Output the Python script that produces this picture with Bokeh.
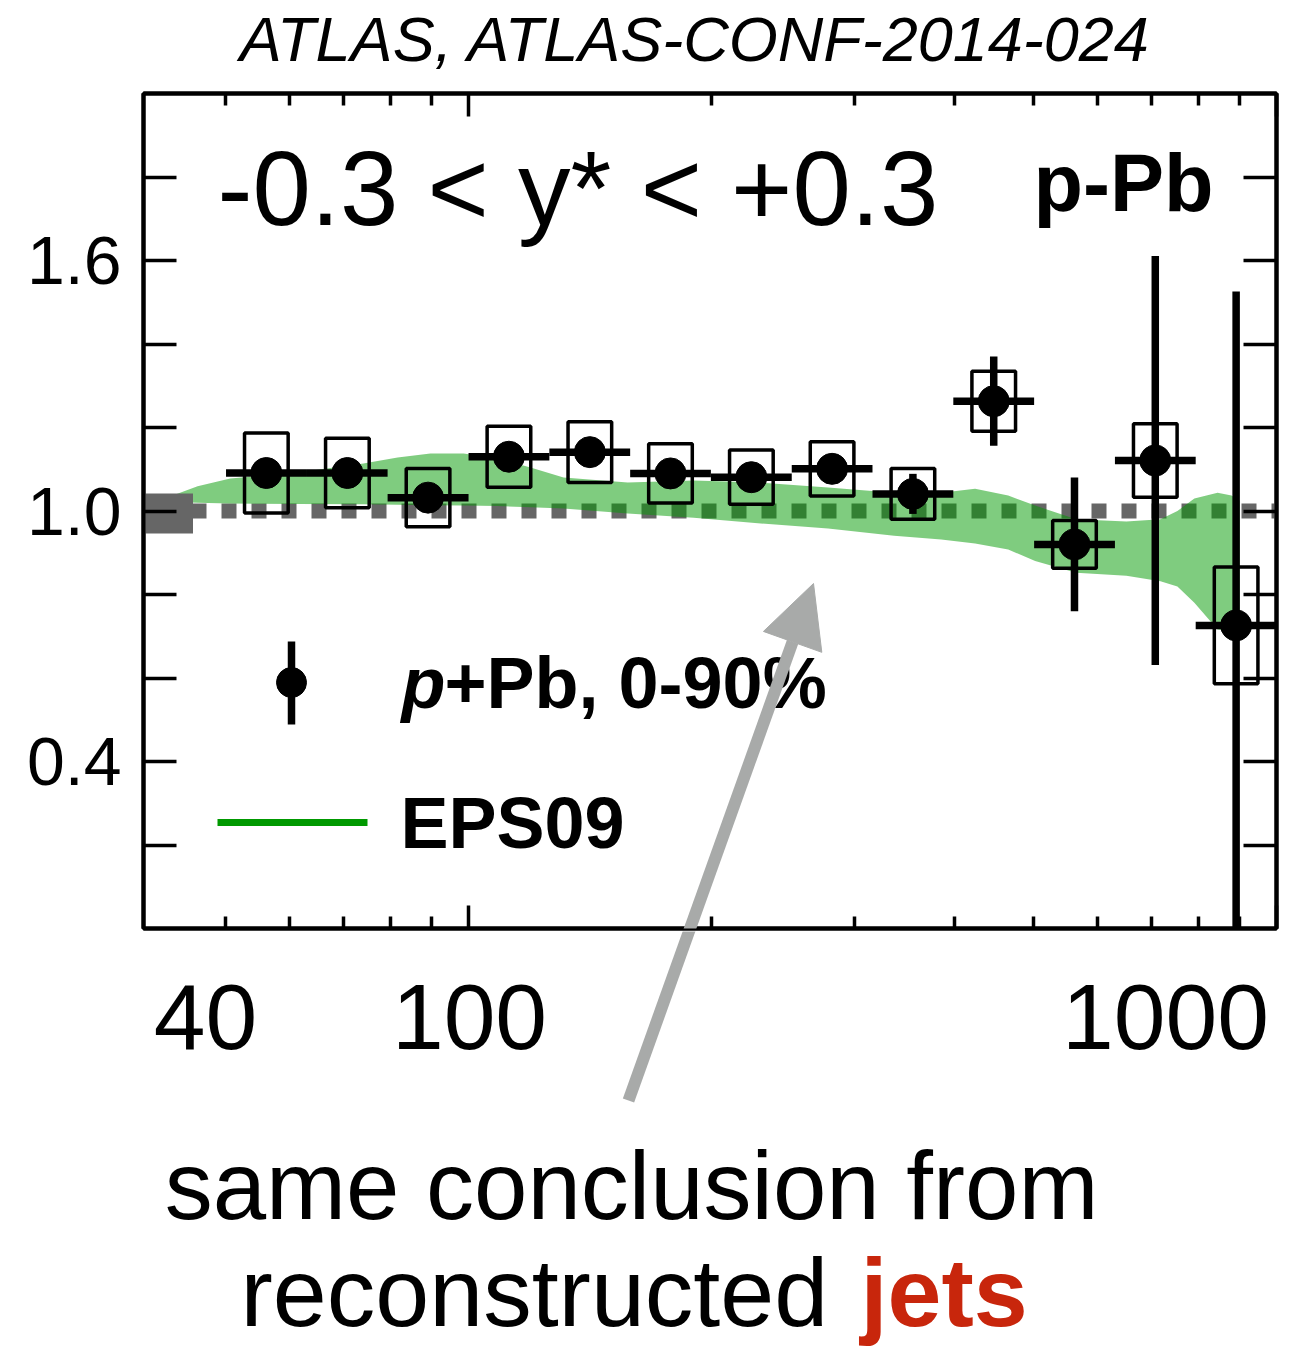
from math import log10
from bokeh.plotting import figure
from bokeh.layouts import column
from bokeh.models import (FixedTicker, LogAxis, LinearAxis, Span, Label, Arrow,
                          NormalHead, ColumnDataSource, Range1d)
from bokeh.embed import file_html
from bokeh.resources import INLINE

# ---------------- data ----------------
pt_x = [56.2, 70.8, 89.1, 112.2, 141.3, 177.8, 223.9, 281.8, 354.8, 446.7, 562.3, 707.9, 891.3]
pt_xlo = [50.1, 63.1, 79.4, 100.0, 125.9, 158.5, 199.5, 251.2, 316.2, 398.1, 501.2, 631.0, 794.3]
pt_xhi = [63.1, 79.4, 100.0, 125.9, 158.5, 199.5, 251.2, 316.2, 398.1, 501.2, 631.0, 794.3, 1000.0]
pt_y = [1.091, 1.091, 1.032, 1.130, 1.141, 1.090, 1.081, 1.101, 1.041, 1.263, 0.920, 1.121, 0.726]
stat_err = [0.02, 0.02, 0.02, 0.025, 0.025, 0.025, 0.025, 0.03, 0.048, 0.107, 0.16, 0.49, 0.80]
sys_err = [0.096, 0.083, 0.070, 0.073, 0.073, 0.071, 0.065, 0.065, 0.061, 0.072, 0.057, 0.088, 0.140]

band_x = [42.7, 46.2, 50.7, 61.4, 74.1, 81.7, 89.7, 98.6, 108.6, 119.3, 131.1, 157.4, 190.0,
          230.0, 278.6, 336.3, 384.6, 423.6, 465.5, 502.7, 565.1, 652.0, 718.4, 754.0, 791.3,
          845.4, 879.7, 900.0]
band_hi = [1.035, 1.059, 1.078, 1.092, 1.114, 1.128, 1.138, 1.138, 1.126, 1.104, 1.080, 1.068, 1.073,
           1.068, 1.056, 1.044, 1.044, 1.053, 1.037, 1.013, 0.980, 0.975, 0.980, 1.000, 1.030,
           1.044, 1.037, 1.025]
band_lo = [1.022, 1.020, 1.018, 1.017, 1.016, 1.015, 1.014, 1.013, 1.012, 1.009, 1.006, 0.994, 0.984,
           0.970, 0.958, 0.941, 0.932, 0.922, 0.908, 0.880, 0.852, 0.845, 0.832, 0.819, 0.780,
           0.716, 0.712, 0.709]

norm_x_hi = 45.6
norm_y_lo = 0.946
norm_y_hi = 1.042

y_ticks = [0.2, 0.4, 0.6, 0.8, 1.0, 1.2, 1.4, 1.6, 1.8]
y_labels = {0.4: "0.4", 1.0: "1.0", 1.6: "1.6"}
x_major = [100, 1000]
x_minor = [50, 60, 70, 80, 90, 200, 300, 400, 500, 600, 700, 800, 900]
x_labels = ["40", "100", "1000"]

# ---------------- layout helpers ----------------
XMIN, XMAX, YMIN, YMAX = 39.6, 1000.0, 0.0, 2.0
FL, FR, FT, FB = 143, 1276, 93, 928      # frame edges in page pixels
W, H = 1293, 1350
TOP_H = 90                                # title strip height
PAD = 3                                   # border above/below the main frame
BOT_Y0 = FB + PAD                         # page y where the bottom strip starts
FONT = "Liberation Sans"
BASE_SHIFT = 0.38                         # baseline correction (fraction of font size)


def dx(px):
    return 10 ** (log10(XMIN) + (px - FL) / (FR - FL) * (log10(XMAX) - log10(XMIN)))


def dy(py):
    return YMIN + (FB - py) / (FB - FT) * (YMAX - YMIN)


def label(fig, text, x, y, size, style="normal", align="left", color="black"):
    fig.add_layout(Label(x=x, y=y, text=text, text_font=FONT, text_font_size=f"{size}px",
                         text_font_style=style, text_align=align, text_baseline="alphabetic",
                         text_color=color))


def main_label(text, px, py, size, **kw):
    label(p, text, dx(px), dy(py - BASE_SHIFT * size), size, **kw)


def strip(height, y_top):
    # page-pixel coordinates: x in [FL, FR] (frame aligned with main plot), y grows downwards
    f = figure(width=W, height=height, x_range=Range1d(FL, FR), y_range=Range1d(y_top + height, y_top),
               output_backend="svg", toolbar_location=None, x_axis_location=None,
               y_axis_location=None, min_border_left=FL, min_border_right=W - FR,
               min_border_top=0, min_border_bottom=0)
    f.grid.visible = False
    f.outline_line_color = None
    f.background_fill_color = "white"
    f.border_fill_color = "white"
    return f


# ---------------- main plot ----------------
p = figure(width=W, height=FB - FT + 2 * PAD, x_axis_type="log", x_range=(XMIN, XMAX),
           y_range=(YMIN, YMAX), output_backend="svg", toolbar_location=None,
           min_border_left=FL, min_border_right=W - FR, min_border_top=PAD, min_border_bottom=PAD)
p.grid.visible = False
p.background_fill_color = "white"
p.border_fill_color = "white"
p.outline_line_color = "black"
p.outline_line_width = 4

xt = FixedTicker(ticks=x_major, minor_ticks=x_minor)
yt = FixedTicker(ticks=y_ticks, minor_ticks=[])


def style_x(ax):
    ax.ticker = xt
    ax.major_tick_in = 23
    ax.major_tick_out = 0
    ax.minor_tick_in = 12
    ax.minor_tick_out = 0
    ax.major_tick_line_width = 3.5
    ax.minor_tick_line_width = 3.5
    ax.axis_line_width = 4
    ax.major_label_overrides = {100: "", 1000: ""}
    ax.major_label_text_font_size = "0px"
    ax.major_label_standoff = 0


def style_y(ax, labels):
    ax.ticker = yt
    ax.major_tick_in = 33
    ax.major_tick_out = 0
    ax.minor_tick_in = 0
    ax.minor_tick_out = 0
    ax.major_tick_line_width = 3.5
    ax.axis_line_width = 4
    ov = {t: "" for t in y_ticks}
    if labels:
        ov.update(y_labels)
        ax.major_label_text_font = FONT
        ax.major_label_text_font_size = "68px"
        ax.major_label_text_color = "black"
        ax.major_label_standoff = 22
    else:
        ax.major_label_text_font_size = "0px"
        ax.major_label_standoff = 0
    ax.major_label_overrides = ov


style_x(p.xaxis[0])
style_y(p.yaxis[0], True)
top_ax = LogAxis()
style_x(top_ax)
p.add_layout(top_ax, "above")
right_ax = LinearAxis()
style_y(right_ax, False)
p.add_layout(right_ax, "right")

# reference line at unity
p.add_layout(Span(location=1.0, dimension="width", line_color="#666666", line_width=15,
                  line_dash="15 15", line_dash_offset=12, level="underlay"))

# EPS09 band (checkered green in the original -> half-transparent green)
band = ColumnDataSource(dict(x=band_x, lo=band_lo, hi=band_hi))
p.varea(x="x", y1="lo", y2="hi", source=band, fill_color="#009900", fill_alpha=0.5)

# normalisation uncertainty
p.quad(left=[XMIN], right=[norm_x_hi], bottom=[norm_y_lo], top=[norm_y_hi],
       fill_color="#666666", line_color=None)

# data points
BOXF = 10 ** 0.027
src = ColumnDataSource(dict(
    x=pt_x, y=pt_y, xlo=pt_xlo, xhi=pt_xhi,
    ylo=[a - b for a, b in zip(pt_y, stat_err)], yhi=[a + b for a, b in zip(pt_y, stat_err)],
    bl=[a / BOXF for a in pt_x], br=[a * BOXF for a in pt_x],
    bb=[a - b for a, b in zip(pt_y, sys_err)], bt=[a + b for a, b in zip(pt_y, sys_err)],
))
p.quad(left="bl", right="br", bottom="bb", top="bt", source=src, fill_color=None,
       line_color="black", line_width=3.5)
p.segment(x0="xlo", y0="y", x1="xhi", y1="y", source=src, line_color="black", line_width=7.5)
p.segment(x0="x", y0="ylo", x1="x", y1="yhi", source=src, line_color="black", line_width=7.5)
p.scatter(x="x", y="y", source=src, size=31, marker="circle", fill_color="black", line_color="black")

# legend (drawn by hand)
p.segment(x0=[dx(291)], y0=[dy(641)], x1=[dx(291)], y1=[dy(724)], line_color="black", line_width=7.5)
p.scatter(x=[dx(291)], y=[dy(682)], size=30, marker="circle", fill_color="black", line_color="black")
p.segment(x0=[dx(217)], y0=[dy(822)], x1=[dx(367)], y1=[dy(822)], line_color="#009900", line_width=7)
main_label("p", 401, 710, 72, style="bold italic")
main_label("+Pb, 0-90%", 444, 710, 72, style="bold")
main_label("EPS09", 400, 850, 72, style="bold")

main_label("-0.3 < y* < +0.3", 217, 228, 105)
main_label("p-Pb", 1033, 213, 81, style="bold")

# arrow (head inside the frame)
ARROW = (628, 1100, 813, 583)
GRAY = "#a8aaa9"
p.add_layout(Arrow(x_start=dx(ARROW[0]), y_start=dy(ARROW[1]), x_end=dx(ARROW[2]), y_end=dy(ARROW[3]),
                   line_color=GRAY, line_width=12,
                   end=NormalHead(size=62, fill_color=GRAY, line_color=GRAY)))

# ---------------- title strip ----------------
ft = strip(TOP_H, 0)
label(ft, "ATLAS, ATLAS-CONF-2014-024", 695, 62 - BASE_SHIFT * 63, 63, style="italic", align="center")

# ---------------- bottom strip ----------------
fb = strip(H - BOT_Y0, BOT_Y0)
fb.add_layout(Arrow(x_start=ARROW[0], y_start=ARROW[1], x_end=ARROW[2], y_end=ARROW[3],
                    line_color=GRAY, line_width=12, end=None))
for txt, cx in zip(x_labels, [205, 469, 1165]):
    label(fb, txt, cx, 1052 - BASE_SHIFT * 93, 93, align="center")
label(fb, "same conclusion from", 631, 1221 - BASE_SHIFT * 96, 96, align="center")
label(fb, "reconstructed ", 240, 1329 - BASE_SHIFT * 97, 97)
label(fb, "jets", 860, 1329 - BASE_SHIFT * 97, 97, style="bold", color="#c8260c")

layout = column(ft, p, fb, spacing=0)
open("out.html", "w").write(file_html(layout, INLINE))
